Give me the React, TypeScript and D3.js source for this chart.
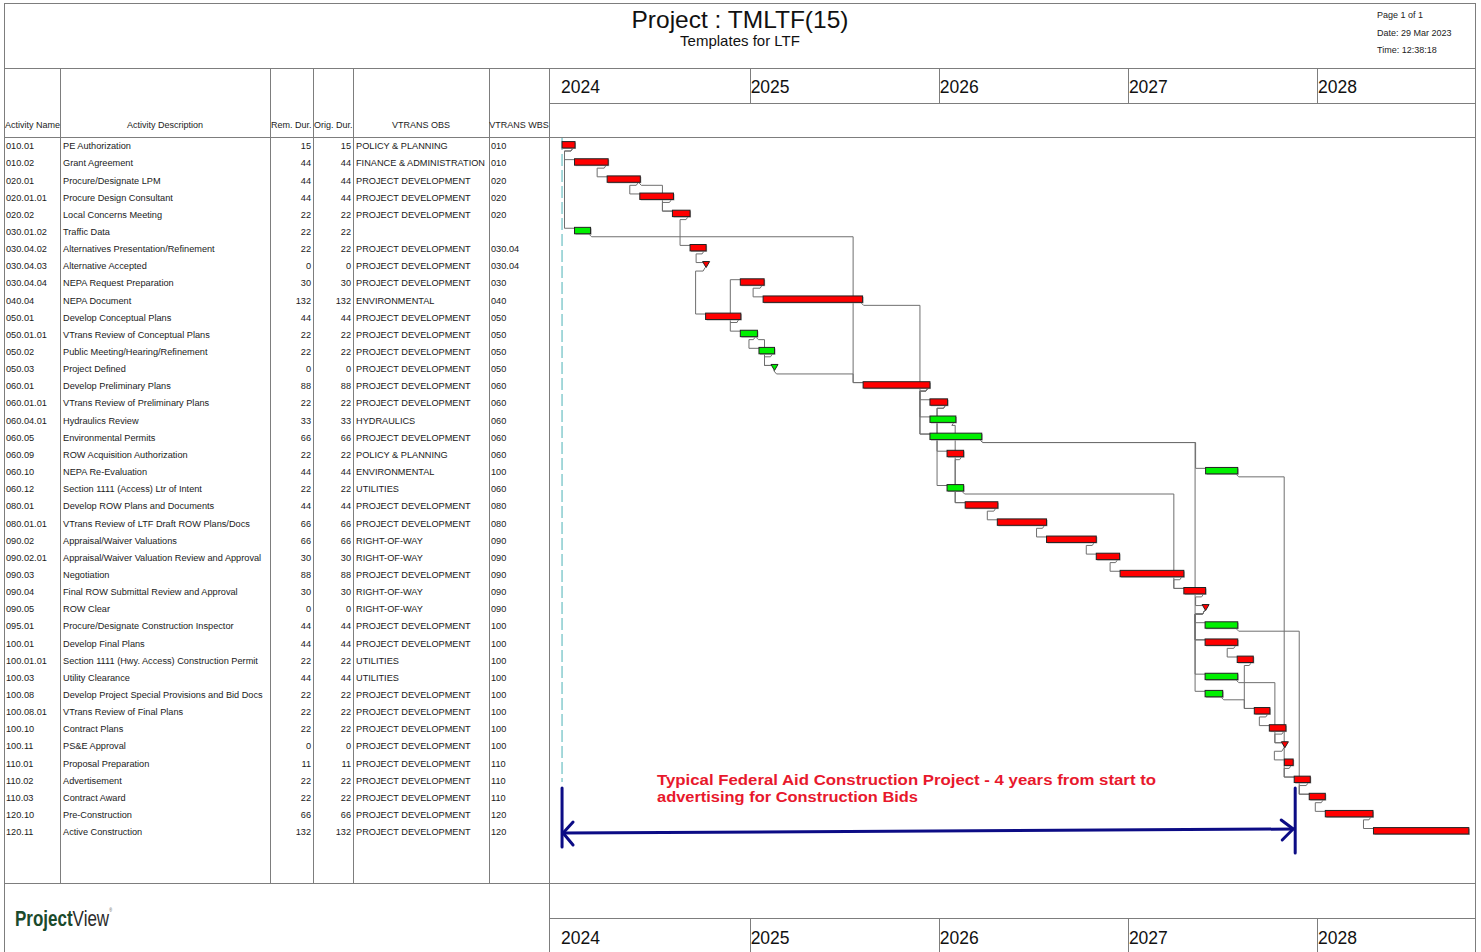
import { useEffect } from "react";
import * as d3 from "d3";

// activity table
const activityNames = [
  "010.01", "010.02", "020.01", "020.01.01", "020.02", "030.01.02", "030.04.02", "030.04.03",
  "030.04.04", "040.04", "050.01", "050.01.01", "050.02", "050.03", "060.01", "060.01.01",
  "060.04.01", "060.05", "060.09", "060.10", "060.12", "080.01", "080.01.01", "090.02",
  "090.02.01", "090.03", "090.04", "090.05", "095.01", "100.01", "100.01.01", "100.03",
  "100.08", "100.08.01", "100.10", "100.11", "110.01", "110.02", "110.03", "120.10", "120.11",
];

const descriptions = [
  "PE Authorization", "Grant Agreement", "Procure/Designate LPM", "Procure Design Consultant",
  "Local Concerns Meeting", "Traffic Data", "Alternatives Presentation/Refinement", "Alternative Accepted",
  "NEPA Request Preparation", "NEPA Document", "Develop Conceptual Plans", "VTrans Review of Conceptual Plans",
  "Public Meeting/Hearing/Refinement", "Project Defined", "Develop Preliminary Plans",
  "VTrans Review of Preliminary Plans", "Hydraulics Review", "Environmental Permits",
  "ROW Acquisition Authorization", "NEPA Re-Evaluation", "Section 1111 (Access) Ltr of Intent",
  "Develop ROW Plans and Documents", "VTrans Review of LTF Draft ROW Plans/Docs", "Appraisal/Waiver Valuations",
  "Appraisal/Waiver Valuation Review and Approval", "Negotiation", "Final ROW Submittal Review and Approval",
  "ROW Clear", "Procure/Designate Construction Inspector", "Develop Final Plans",
  "Section 1111 (Hwy. Access) Construction Permit", "Utility Clearance",
  "Develop Project Special Provisions and Bid Docs", "VTrans Review of Final Plans", "Contract Plans",
  "PS&E Approval", "Proposal Preparation", "Advertisement", "Contract Award", "Pre-Construction",
  "Active Construction",
];

const remDur = [15, 44, 44, 44, 22, 22, 22, 0, 30, 132, 44, 22, 22, 0, 88, 22, 33, 66, 22, 44, 22, 44, 66, 66, 30, 88, 30, 0, 44, 44, 22, 44, 22, 22, 22, 0, 11, 22, 22, 66, 132];
const origDur = [15, 44, 44, 44, 22, 22, 22, 0, 30, 132, 44, 22, 22, 0, 88, 22, 33, 66, 22, 44, 22, 44, 66, 66, 30, 88, 30, 0, 44, 44, 22, 44, 22, 22, 22, 0, 11, 22, 22, 66, 132];

const PD = "PROJECT DEVELOPMENT";
const obs = [
  "POLICY & PLANNING", "FINANCE & ADMINISTRATION", PD, PD, PD, "", PD, PD, PD, "ENVIRONMENTAL", PD, PD, PD, PD,
  PD, PD, "HYDRAULICS", PD, "POLICY & PLANNING", "ENVIRONMENTAL", "UTILITIES", PD, PD, "RIGHT-OF-WAY",
  "RIGHT-OF-WAY", PD, "RIGHT-OF-WAY", "RIGHT-OF-WAY", PD, PD, "UTILITIES", "UTILITIES", PD, PD, PD, PD,
  PD, PD, PD, PD, PD,
];

const wbs = [
  "010", "010", "020", "020", "020", "", "030.04", "030.04", "030", "040", "050", "050", "050", "050",
  "060", "060", "060", "060", "060", "100", "060", "080", "080", "090", "090", "090", "090", "090",
  "100", "100", "100", "100", "100", "100", "100", "100", "110", "110", "110", "120", "120",
];

const starts = [
  "2024-01-05", "2024-01-29", "2024-04-01", "2024-06-03", "2024-08-05", "2024-01-29", "2024-09-08", "2024-10-09",
  "2024-12-14", "2025-01-27", "2024-10-08", "2024-12-14", "2025-01-19", "2025-02-18", "2025-08-08", "2025-12-15",
  "2025-12-15", "2025-12-15", "2026-01-17", "2027-05-31", "2026-01-17", "2026-02-21", "2026-04-24", "2026-07-28",
  "2026-11-01", "2026-12-17", "2027-04-19", "2027-05-31", "2027-05-30", "2027-05-30", "2027-07-31", "2027-05-30",
  "2027-05-30", "2027-09-02", "2027-10-01", "2027-10-31", "2027-10-30", "2027-11-18", "2027-12-17", "2028-01-17",
  "2028-04-19",
];

const finishes = [
  "2024-01-30", "2024-04-03", "2024-06-04", "2024-08-07", "2024-09-08", "2024-02-29", "2024-10-09", "2024-10-09",
  "2025-01-29", "2025-08-07", "2024-12-15", "2025-01-16", "2025-02-18", "2025-02-18", "2025-12-15", "2026-01-18",
  "2026-02-03", "2026-03-25", "2026-02-18", "2027-08-01", "2026-02-18", "2026-04-25", "2026-07-28", "2026-11-01",
  "2026-12-16", "2027-04-19", "2027-05-31", "2027-05-31", "2027-08-01", "2027-08-01", "2027-08-31", "2027-08-01",
  "2027-07-03", "2027-10-02", "2027-11-02", "2027-10-31", "2027-11-16", "2027-12-19", "2028-01-17", "2028-04-18",
  "2028-10-20",
];

// true = critical (red), false = green
const critical = [
  true, true, true, true, true, false, true, true, true, true, true, false, false, false, true, true,
  false, false, true, false, false, true, true, true, true, true, true, true, false, true, true, false,
  false, true, true, true, true, true, true, true, true,
];

// predecessor -> successor (row index)
const links = [
  [0, 1], [0, 5], [1, 2], [2, 3], [2, 4], [3, 4], [4, 6], [6, 7], [7, 10], [10, 8], [10, 11], [8, 9],
  [11, 12], [11, 13], [12, 13], [13, 14], [5, 14], [9, 17], [14, 15], [14, 16], [14, 17], [15, 18],
  [15, 20], [16, 21], [18, 21], [17, 19], [17, 29], [20, 26], [21, 22], [22, 23], [23, 24], [24, 25],
  [25, 26], [26, 27], [27, 28], [27, 29], [27, 31], [27, 32], [29, 30], [30, 33], [32, 33], [31, 35],
  [33, 34], [34, 35], [35, 36], [36, 37], [19, 37], [37, 38], [28, 38], [38, 39], [39, 40],
];

const yearTicks = ["2024", "2025", "2026", "2027", "2028"];
const dataDate = "2024-01-04";

const FONT = "'Liberation Sans', Arial, sans-serif";
const LINE = "#7d7d7d";

const parse = d3.timeParse("%Y-%m-%d");

export default function App() {
  useEffect(() => {
    document.body.style.margin = "0";
    document.body.style.overflow = "hidden";
  }, []);

  const width = 1481,
    height = 952,
    left = 4,
    right = 1475,
    ganttLeft = 549,
    headTop = 68,
    headBottom = 137,
    tableBottom = 883;

  const colX = [60, 270, 313, 353, 489];

  const x = d3
    .scaleTime()
    .domain([parse("2024-01-01"), parse("2028-01-01")])
    .range([560, 1317]);

  const y = d3
    .scaleLinear()
    .domain([0, activityNames.length - 1])
    .range([146, 832]);

  const isMs = (i) => origDur[i] === 0;
  const sx = (i) => x(parse(starts[i]));
  const fx = (i) => x(parse(finishes[i]));

  // finish-to-start link, routed down then across like the P6 layout
  const linkPath = ([a, b]) => {
    const ax = isMs(a) ? sx(a) + 1 : fx(a);
    const ay = y(a);
    const bStart = sx(b);
    const bx = isMs(b) ? bStart - 3 : bStart;
    const tx = bStart - 10;
    const p = d3.path();
    p.moveTo(ax - 2, ay + (isMs(a) ? 1.5 : 2));
    p.lineTo(tx > ax ? ax + 1 : ax - 4, ay + 5);
    p.lineTo(tx, ay + 5);
    p.lineTo(tx, y(b) - 3.5);
    p.lineTo(bx, y(b) - 3.5);
    return p.toString();
  };

  const years = yearTicks.map((t) => ({ label: t, x: x(parse(`${t}-01-01`)) }));

  const arrowL = x(parse(dataDate)) + 0.5;
  const arrowR = sx(37) + 1;

  return (
    <svg
      width={width}
      height={height}
      style={{ position: "absolute", left: 0, top: 0, display: "block", background: "#fff" }}
      fontFamily={FONT}
    >
      {/* frame */}
      <g stroke={LINE} strokeWidth={1} shapeRendering="crispEdges">
        <line x1={left} x2={right} y1={3.5} y2={3.5} />
        <line x1={left} x2={left} y1={3} y2={height} />
        <line x1={right} x2={right} y1={3} y2={height} />
        <line x1={left} x2={right} y1={headTop + 0.5} y2={headTop + 0.5} />
        <line x1={left} x2={right} y1={headBottom + 0.5} y2={headBottom + 0.5} />
        <line x1={left} x2={right} y1={tableBottom + 0.5} y2={tableBottom + 0.5} />
        <line x1={ganttLeft} x2={right} y1={103.5} y2={103.5} />
        <line x1={ganttLeft} x2={right} y1={918.5} y2={918.5} />
        <line x1={ganttLeft + 0.5} x2={ganttLeft + 0.5} y1={headTop} y2={height} />
        {colX.map((c) => (
          <line key={c} x1={c + 0.5} x2={c + 0.5} y1={headTop} y2={tableBottom} />
        ))}
        {years.slice(1).map((d) => (
          <g key={d.label}>
            <line x1={Math.round(d.x) + 0.5} x2={Math.round(d.x) + 0.5} y1={headTop} y2={103} />
            <line x1={Math.round(d.x) + 0.5} x2={Math.round(d.x) + 0.5} y1={918} y2={height} />
          </g>
        ))}
      </g>

      {/* title block */}
      <text x={740} y={28} textAnchor="middle" fontSize={24.5} fill="#111">
        Project : TMLTF(15)
      </text>
      <text x={740} y={46} textAnchor="middle" fontSize={15} fill="#111">
        Templates for LTF
      </text>
      <g fontSize={9} fill="#222">
        <text x={1377} y={18}>Page 1 of 1</text>
        <text x={1377} y={36}>Date: 29 Mar 2023</text>
        <text x={1377} y={53}>Time: 12:38:18</text>
      </g>

      {/* column headers */}
      <g fontSize={9} fill="#222">
        <text x={5} y={128}>Activity Name</text>
        <text x={165} y={128} textAnchor="middle">Activity Description</text>
        <text x={271} y={128}>Rem. Dur.</text>
        <text x={314} y={128}>Orig. Dur.</text>
        <text x={421} y={128} textAnchor="middle">VTRANS OBS</text>
        <text x={519} y={128} textAnchor="middle">VTRANS WBS</text>
      </g>

      {/* year scale */}
      <g fontSize={17.5} fill="#111">
        {years.map((d) => (
          <text key={"t" + d.label} x={d.x + 1} y={93}>{d.label}</text>
        ))}
        {years.map((d) => (
          <text key={"b" + d.label} x={d.x + 1} y={944}>{d.label}</text>
        ))}
      </g>

      {/* table rows */}
      <g fontSize={9.2} fill="#1a1a1a">
        {activityNames.map((n, i) => (
          <g key={n} transform={`translate(0,${y(i) + 3.2})`}>
            <text x={6}>{n}</text>
            <text x={63}>{descriptions[i]}</text>
            <text x={311} textAnchor="end">{remDur[i]}</text>
            <text x={351} textAnchor="end">{origDur[i]}</text>
            <text x={356}>{obs[i]}</text>
            <text x={491}>{wbs[i]}</text>
          </g>
        ))}
      </g>

      {/* data date */}
      <line
        x1={x(parse(dataDate)) + 0.5}
        x2={x(parse(dataDate)) + 0.5}
        y1={headBottom + 1}
        y2={782}
        stroke="#8fcfd2"
        strokeWidth={1.6}
        strokeDasharray="12 4"
      />

      {/* relationships */}
      <g fill="none" stroke="#6f6f6f" strokeWidth={1}>
        {links.map((l) => (
          <path key={l.join("-")} d={linkPath(l)} />
        ))}
      </g>

      {/* bars */}
      <g>
        {activityNames.map((n, i) => {
          const fill = critical[i] ? "#ff0000" : "#00f000";
          const yc = y(i);
          if (isMs(i)) {
            const cx = sx(i);
            return (
              <path
                key={n}
                d={`M${cx - 3.5},${yc - 4.5}L${cx + 3.5},${yc - 4.5}L${cx},${yc + 1.5}Z`}
                fill={fill}
                stroke="#222"
                strokeWidth={1}
              />
            );
          }
          const x0 = sx(i),
            x1 = fx(i);
          return (
            <g key={n}>
              <rect x={x0 + 1} y={yc - 3.4} width={x1 - x0} height={6.4} fill="#a8a8a8" />
              <rect x={x0} y={yc - 4.4} width={x1 - x0} height={6.4} fill={fill} stroke="#222" strokeWidth={1} />
            </g>
          );
        })}
      </g>

      {/* annotation */}
      <g fontSize={14.5} fontWeight="bold" fill="#e8182c">
        <text x={657} y={785} textLength={499} lengthAdjust="spacingAndGlyphs">
          Typical Federal Aid Construction Project - 4 years from start to
        </text>
        <text x={657} y={802} textLength={261} lengthAdjust="spacingAndGlyphs">
          advertising for Construction Bids
        </text>
      </g>
      <g stroke="#0c0c85" strokeWidth={3} fill="none" strokeLinecap="round">
        <line x1={arrowL} x2={arrowL} y1={788} y2={847} />
        <line x1={arrowR} x2={arrowR} y1={788} y2={853} />
        <line x1={arrowL + 1} x2={arrowR - 2} y1={833} y2={829} />
        <path d={`M${arrowL + 11},${822}L${arrowL + 1},${833}L${arrowL + 11},${845}`} />
        <path d={`M${arrowR - 14},${820}L${arrowR - 2},${829}L${arrowR - 13},${840}`} />
      </g>

      {/* logo */}
      <text x={15} y={926} fontSize={22} textLength={97} lengthAdjust="spacingAndGlyphs">
        <tspan fontWeight="bold" fill="#1a4a2c">Project</tspan>
        <tspan fill="#2b2b2b">View</tspan>
        <tspan fontSize={5} dy={-14} fill="#555">®</tspan>
      </text>
    </svg>
  );
}
